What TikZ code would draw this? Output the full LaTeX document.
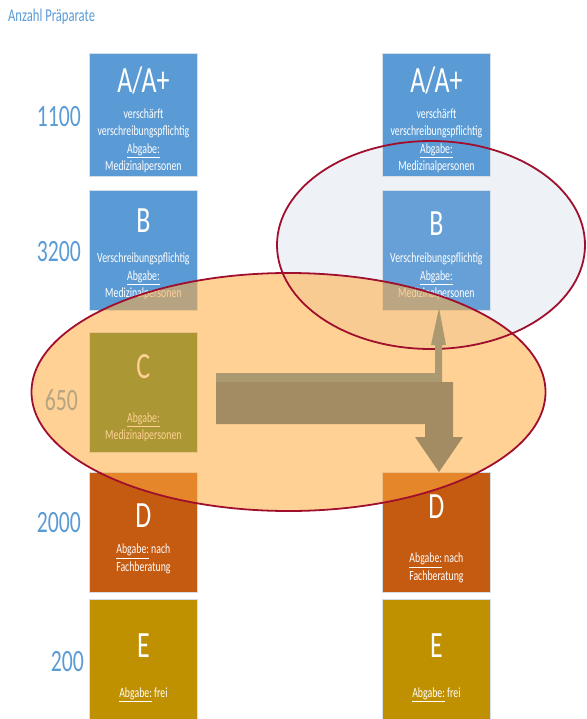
\documentclass[tikz,border=0pt]{standalone}
\usepackage{fontspec}
\setmainfont{Carlito}[FakeStretch=0.7]
\usetikzlibrary{calc,positioning}
\definecolor{kastenblau}{HTML}{5B9BD5}
\definecolor{kastenblauhell}{HTML}{67A0D6}
\definecolor{kastengruen}{RGB}{69,127,40}
\definecolor{kastenorange}{HTML}{C55A11}
\definecolor{kastengold}{HTML}{BF9000}
\definecolor{kastenrand}{HTML}{D6DEE8}
\definecolor{ellipsenblau}{HTML}{EEF2F7}
\definecolor{ellipsenorange}{RGB}{255,171,62}
\definecolor{ellipsenrand}{HTML}{A00F2D}
\definecolor{pfeilbraun}{RGB}{163,140,100}
\definecolor{pfeilhell}{RGB}{170,153,113}

\begin{document}
\begin{tikzpicture}[x=1pt,y=-1pt,every node/.style={inner sep=0pt,text=white},
  kasten/.style={draw=kastenrand,line width=0.8pt,minimum width=108pt,minimum height=120pt,anchor=north west},
  buchstabe/.style={font=\fontsize{37}{37}\selectfont,anchor=base},
  info/.style={font=\fontsize{14}{17.5}\selectfont,align=center},
  anzahl/.style={font=\fontsize{31}{31}\selectfont,text=kastenblau,anchor=east}]
\useasboundingbox (0,0) rectangle (586,719);
\fill [ellipsenblau] (431,245) ellipse [x radius=154pt,y radius=104pt];

\node [anchor=west,text=kastenblau,font=\fontsize{18}{18}\selectfont] (Titel) at (8,17) {Anzahl Präparate};

\node [kasten,fill=kastenblau,minimum height=123pt] (LinksA) at (89,53) {};
\node [kasten,fill=kastenblau] (LinksB) at (89,190) {};
\node [kasten,fill=kastengruen] (LinksC) at (89,332) {};
\node [kasten,fill=kastenorange] (LinksD) at (89,472) {};
\node [kasten,fill=kastengold] (LinksE) at (89,599) {};
\node [kasten,fill=kastenblau,minimum height=123pt] (RechtsA) at (382,53) {};
\node [kasten,fill=kastenblauhell] (RechtsB) at (382,190) {};
\node [kasten,fill=kastenorange] (RechtsD) at (382,472) {};
\node [kasten,fill=kastengold] (RechtsE) at (382,599) {};

\node [buchstabe] (LinksAName) at ($(LinksA.north)+(0,40)$) {A/A+};
\node [info] (LinksAText) at ($(LinksA.north)+(0,88)$) {verschärft\\verschreibungspflichtig\\\underline{Abgabe:}\\Medizinalpersonen};
\node [buchstabe] (LinksBName) at ($(LinksB.north)+(0,43)$) {B};
\node [info] (LinksBText) at ($(LinksB.north)+(0,86.5)$) {Verschreibungspflichtig\\\underline{Abgabe:}\\Medizinalpersonen};
\node [buchstabe] (LinksCName) at ($(LinksC.north)+(0,46)$) {C};
\node [info] (LinksCText) at ($(LinksC.north)+(0,95.5)$) {\underline{Abgabe:}\\Medizinalpersonen};
\node [buchstabe] (LinksDName) at ($(LinksD.north)+(0,55)$) {D};
\node [info] (LinksDText) at ($(LinksD.north)+(0,87)$) {\underline{Abgabe:} nach\\Fachberatung};
\node [buchstabe] (LinksEName) at ($(LinksE.north)+(0,58)$) {E};
\node [info] (LinksEText) at ($(LinksE.north)+(0,96)$) {\underline{Abgabe:} frei};

\node [buchstabe] (RechtsAName) at ($(RechtsA.north)+(0,40)$) {A/A+};
\node [info] (RechtsAText) at ($(RechtsA.north)+(0,88)$) {verschärft\\verschreibungspflichtig\\\underline{Abgabe:}\\Medizinalpersonen};
\node [buchstabe] (RechtsBName) at ($(RechtsB.north)+(0,45)$) {B};
\node [info] (RechtsBText) at ($(RechtsB.north)+(0,86.5)$) {Verschreibungspflichtig\\\underline{Abgabe:}\\Medizinalpersonen};
\node [buchstabe] (RechtsDName) at ($(RechtsD.north)+(0,46)$) {D};
\node [info] (RechtsDText) at ($(RechtsD.north)+(0,96)$) {\underline{Abgabe:} nach\\Fachberatung};
\node [buchstabe] (RechtsEName) at ($(RechtsE.north)+(0,58)$) {E};
\node [info] (RechtsEText) at ($(RechtsE.north)+(0,96)$) {\underline{Abgabe:} frei};

\node [anzahl] (AnzahlA) at (81,117) {1100};
\node [anzahl] (AnzahlB) at (81,252) {3200};
\node [anzahl] (AnzahlC) at (78,400) {650};
\node [anzahl] (AnzahlD) at (81,523) {2000};
\node [anzahl] (AnzahlE) at (84,662) {200};

\fill [ellipsenorange,fill opacity=0.55] (288.5,392) ellipse [x radius=257pt,y radius=119pt];
\draw [ellipsenrand,line width=1.8pt] (431,245) ellipse [x radius=154pt,y radius=104pt];
\draw [ellipsenrand,line width=1.8pt] (288.5,392) ellipse [x radius=257pt,y radius=119pt];

\fill [pfeilhell] (216,373) -- (435,373) -- (435,345) -- (431,345) -- (439,308) -- (446,345) -- (442,345) -- (442,382) -- (216,382) -- cycle;
\fill [pfeilbraun] (216,382) -- (453,382) -- (453,437) -- (463,437) -- (439,472) -- (415,437) -- (425,437) -- (425,424) -- (216,424) -- cycle;
\end{tikzpicture}
\end{document}
